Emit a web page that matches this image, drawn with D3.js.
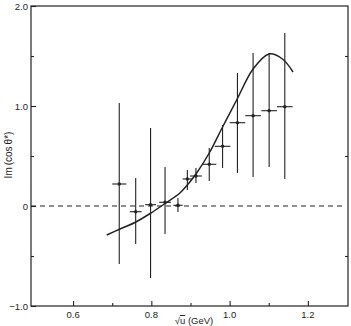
<!DOCTYPE html>
<html>
<head>
<title></title>
<script src="https://d3js.org/d3.v7.min.js"></script>
<style>
  body { margin: 0; background: #fff; }
  text { font-family: "Liberation Sans", Arial, sans-serif; fill: #222; }
</style>
</head>
<body>
<div id="chart"></div>
<script>
// measured points
var xVals = [0.718, 0.760, 0.798, 0.835, 0.868, 0.892, 0.914, 0.948, 0.982, 1.020, 1.060, 1.101, 1.141];
var yVals = [0.22, -0.057, 0.013, 0.037, 0.007, 0.27, 0.30, 0.417, 0.597, 0.833, 0.903, 0.953, 0.993];
var yHi   = [1.03, 0.28, 0.78, 0.39, 0.08, 0.36, 0.38, 0.58, 0.81, 1.33, 1.53, 1.53, 1.73];
var yLo   = [-0.58, -0.38, -0.72, -0.28, -0.06, 0.16, 0.23, 0.25, 0.38, 0.33, 0.29, 0.39, 0.27];
var xErr  = [0.018, 0.015, 0.014, 0.015, 0.012, 0.012, 0.015, 0.018, 0.02, 0.02, 0.02, 0.02, 0.02];

// fitted curve
var curveX = [0.686, 0.720, 0.758, 0.797, 0.835, 0.873, 0.892, 0.914, 0.948, 0.982, 1.018, 1.060, 1.101, 1.135, 1.162];
var curveY = [-0.29, -0.23, -0.165, -0.075, 0.025, 0.13, 0.21, 0.32, 0.53, 0.79, 1.06, 1.37, 1.52, 1.47, 1.34];

var xTicks = [0.6, 0.8, 1.0, 1.2];
var xTickLabels = ["0.6", "0.8", "1.0", "1.2"];
var xMinor = [0.7, 0.9, 1.1];
var yTicks = [-1, 0, 1, 2];
var yTickLabels = ["\u22121.0", "0", "1.0", "2.0"];
var yMinor = [-0.5, 0.5, 1.5];

var W = 351, H = 326;
var pL = 31, pR = 348, pT = 6, pB = 306;

var svg = d3.select("#chart").append("svg")
  .attr("width", W).attr("height", H);

var x = d3.scaleLinear().domain([0.4925, 1.3025]).range([pL, pR]);
var y = d3.scaleLinear().domain([-1, 2]).range([pB, pT]);

var ink = "#222";

// frame
svg.append("rect")
  .attr("x", pL).attr("y", pT)
  .attr("width", pR - pL).attr("height", pB - pT)
  .attr("fill", "none").attr("stroke", ink).attr("stroke-width", 1.2);

// axes with inward ticks
var xAxis = d3.axisTop(x).tickValues(xTicks).tickSize(5).tickFormat("");
var gx = svg.append("g").attr("transform", "translate(0," + pB + ")").call(xAxis);
var xAxisMinor = d3.axisTop(x).tickValues(xMinor).tickSize(3).tickFormat("");
var gxm = svg.append("g").attr("transform", "translate(0," + pB + ")").call(xAxisMinor);

var yAxis = d3.axisRight(y).tickValues(yTicks).tickSize(5).tickFormat("");
var gy = svg.append("g").attr("transform", "translate(" + pL + ",0)").call(yAxis);
var yAxisMinor = d3.axisRight(y).tickValues(yMinor).tickSize(3).tickFormat("");
var gym = svg.append("g").attr("transform", "translate(" + pL + ",0)").call(yAxisMinor);

var yAxisR = d3.axisLeft(y).tickValues(yMinor).tickSize(3).tickFormat("");
var gyr = svg.append("g").attr("transform", "translate(" + pR + ",0)").call(yAxisR);

[gx, gxm, gy, gym, gyr].forEach(function(g) {
  g.select(".domain").remove();
  g.selectAll("line").attr("stroke", ink).attr("stroke-width", 1.1);
});

// tick labels
svg.selectAll(".xl").data(xTicks).enter().append("text")
  .attr("x", function(d) { return x(d); })
  .attr("y", pB + 12)
  .attr("text-anchor", "middle")
  .style("font-size", "9.5px")
  .text(function(d, i) { return xTickLabels[i]; });

svg.selectAll(".yl").data(yTicks).enter().append("text")
  .attr("x", pL - 3)
  .attr("y", function(d) { return y(d) + 3.5; })
  .attr("text-anchor", "end")
  .style("font-size", "9.5px")
  .text(function(d, i) { return yTickLabels[i]; });

// axis titles
svg.append("text")
  .attr("transform", "translate(12,155) rotate(-90)")
  .attr("text-anchor", "middle")
  .style("font-size", "10px")
  .text("Im\u2009(cos\u2009\u03b8*)");

var xt = svg.append("text")
  .attr("x", 194).attr("y", 324)
  .attr("text-anchor", "middle")
  .style("font-size", "9.5px");
xt.append("tspan").text("\u221a");
xt.append("tspan").style("text-decoration", "overline").text("u");
xt.append("tspan").text(" (GeV)");

// zero line
svg.append("line")
  .attr("x1", pL).attr("x2", pR - 3)
  .attr("y1", y(0)).attr("y2", y(0))
  .attr("stroke", ink).attr("stroke-width", 1)
  .attr("stroke-dasharray", "5,4");

// curve
var line = d3.line()
  .x(function(d, i) { return x(curveX[i]); })
  .y(function(d) { return y(d); })
  .curve(d3.curveCatmullRom);
svg.append("path")
  .attr("d", line(curveY))
  .attr("fill", "none").attr("stroke", ink).attr("stroke-width", 1.5);

// error bars and points
var pts = svg.append("g");
xVals.forEach(function(xv, i) {
  pts.append("line")
    .attr("x1", x(xv)).attr("x2", x(xv))
    .attr("y1", y(yLo[i])).attr("y2", y(yHi[i]))
    .attr("stroke", ink).attr("stroke-width", 1.1);
  pts.append("line")
    .attr("x1", x(xv - xErr[i])).attr("x2", x(xv + xErr[i]))
    .attr("y1", y(yVals[i])).attr("y2", y(yVals[i]))
    .attr("stroke", ink).attr("stroke-width", 1.1);
  pts.append("circle")
    .attr("cx", x(xv)).attr("cy", y(yVals[i]))
    .attr("r", 1.7).attr("fill", ink);
});
</script>
</body>
</html>
